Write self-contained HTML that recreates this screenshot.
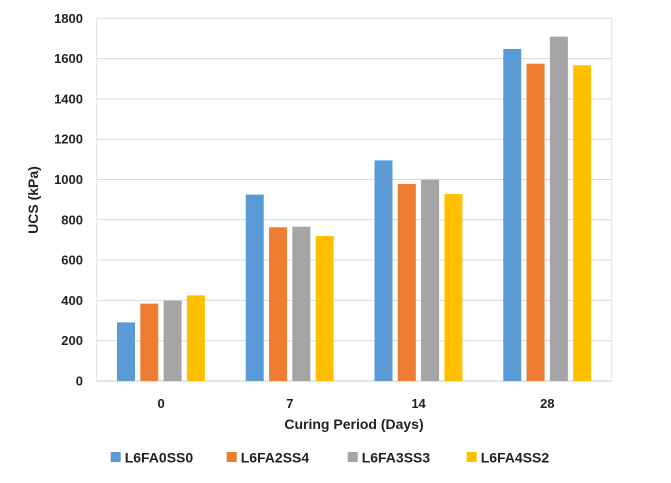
<!DOCTYPE html>
<html><head><meta charset="utf-8"><style>
body{margin:0;background:#fff;}
svg text{font-family:"Liberation Sans",Arial,sans-serif;font-weight:bold;fill:#222;}
</style></head><body>
<svg id="chart" width="671" height="478" viewBox="0 0 671 478" xmlns="http://www.w3.org/2000/svg">
<g id="grid"></g><g id="bars"></g><g id="labels"></g>
<text x="354" y="429" text-anchor="middle" font-size="14">Curing Period (Days)</text>
<text transform="translate(38,200) rotate(-90)" text-anchor="middle" font-size="14">UCS (kPa)</text>
<g id="legend"></g>
</svg>
<script>
const categories = ["0","7","14","28"];
const seriesNames = ["L6FA0SS0","L6FA2SS4","L6FA3SS3","L6FA4SS2"];
const s0 = [291, 925, 1095, 1648];
const s1 = [384, 763, 978, 1575];
const s2 = [399, 766, 999, 1709];
const s3 = [425, 720, 928, 1567];
const yTicks = [0,200,400,600,800,1000,1200,1400,1600,1800];
const colors = ["#5b9bd5","#ed7d31","#a5a5a5","#ffc000"];
const series=[s0,s1,s2,s3];
const NS="http://www.w3.org/2000/svg";
const L=96.7,R=611.7,T=18.3,B=381,YMAX=1800;
const y=v=>B-(v/YMAX)*(B-T);
const gw=(R-L)/categories.length;
const xb=(ci,si)=>L+ci*gw+20.3+si*23.3;
function mk(tag,attrs,parent){const e=document.createElementNS(NS,tag);for(const k in attrs)e.setAttribute(k,attrs[k]);document.getElementById(parent).appendChild(e);return e;}
[L,R].forEach(xx=>{
  const l=mk("line",{x1:xx,x2:xx,y1:T,y2:B,stroke:"#e3e3e3","stroke-width":1},"grid");
  
  
});
yTicks.forEach(t=>{
  const l=mk("line",{x1:L,x2:R,y1:y(t),y2:y(t),stroke:t===0?"#c8c8c8":"#d9d9d9","stroke-width":1},"grid");
  
  
  const tx=mk("text",{x:83,y:y(t)+4.5,"text-anchor":"end","font-size":"13"},"labels");
  tx.textContent=t;
  
  
});
categories.forEach((c,ci)=>{
  series.forEach((s,si)=>{
    const r=mk("rect",{x:xb(ci,si),y:y(s[ci]),width:18,height:B-y(s[ci]),fill:colors[si]},"bars");
    
    
  });
  const tx=mk("text",{x:L+ci*gw+gw/2,y:408,"text-anchor":"middle","font-size":"13"},"labels");
  tx.textContent=c;
  
  
});
const lx=[110.7,226.7,347.7,466.7];
seriesNames.forEach((n,i)=>{
  const r=mk("rect",{x:lx[i],y:452,width:10,height:10,fill:colors[i]},"legend");
  
  
  const t=mk("text",{x:lx[i]+14,y:462.5,"font-size":"14"},"legend");
  t.textContent=n;
  
  
});
</script>
</body></html>
